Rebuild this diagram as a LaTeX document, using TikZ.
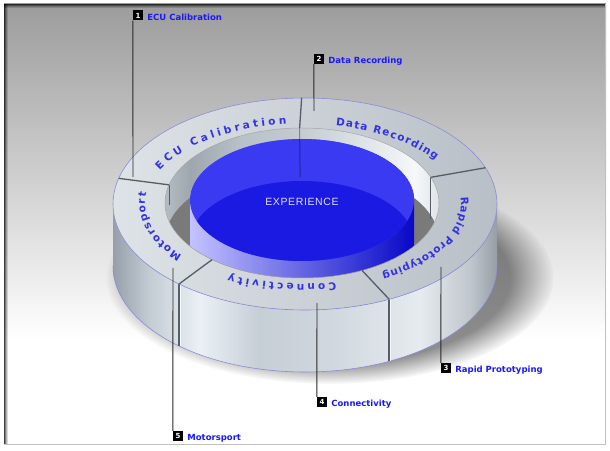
\documentclass[tikz,border=0pt]{standalone}
\usepackage{fontspec}
\setmainfont{DejaVu Sans}
\newfontfamily\expfont[LetterSpace=6]{Liberation Sans}
\usetikzlibrary{decorations.text,fadings}

\definecolor{panelTop}{RGB}{156,156,156}
\definecolor{panelEdge}{RGB}{192,192,192}
\definecolor{labelblue}{RGB}{25,25,250}
\definecolor{ringblue}{RGB}{50,50,228}
\definecolor{rimc}{RGB}{140,140,215}
\definecolor{topL}{RGB}{222,227,231}
\definecolor{topR}{RGB}{184,191,198}
\definecolor{divc}{RGB}{84,94,104}
\definecolor{floorc}{RGB}{122,122,122}
\definecolor{cylL}{RGB}{195,195,255}
\definecolor{cylR}{RGB}{8,8,200}
\definecolor{cylLight}{RGB}{58,58,242}
\definecolor{cylDark}{RGB}{26,26,226}
\definecolor{expc}{RGB}{222,222,250}
\definecolor{leadc}{RGB}{40,40,40}
\definecolor{wA}{RGB}{150,160,170}
\definecolor{wB}{RGB}{196,204,212}
\definecolor{wC}{RGB}{234,240,245}
\definecolor{wD}{RGB}{198,206,214}
\definecolor{wE}{RGB}{208,215,222}
\definecolor{wF}{RGB}{230,235,239}
\definecolor{wG}{RGB}{192,198,204}
\definecolor{wH}{RGB}{150,158,166}
\definecolor{iA}{RGB}{180,188,196}
\definecolor{iB}{RGB}{158,166,174}
\definecolor{iC}{RGB}{184,192,200}
\definecolor{iD}{RGB}{196,204,210}
\definecolor{iE}{RGB}{220,226,230}
\definecolor{iF}{RGB}{246,248,250}
\definecolor{iG}{RGB}{223,228,232}

\pgfdeclarehorizontalshading{wallshade}{100bp}{color(0bp)=(wA); color(25bp)=(wA); color(29.8bp)=(wB); color(36.3bp)=(wC); color(44.1bp)=(wD); color(53.3bp)=(wE); color(65bp)=(wF); color(71.5bp)=(wG); color(75bp)=(wH); color(100bp)=(wH)}
\pgfdeclarehorizontalshading{innershade}{100bp}{color(0bp)=(iA); color(25bp)=(iA); color(29.6bp)=(iB); color(38.7bp)=(iC); color(49.6bp)=(iD); color(60.5bp)=(iE); color(70.6bp)=(iF); color(75bp)=(iG); color(100bp)=(iG)}

\newcommand\ringfont{\fontsize{10.5}{10.5}\selectfont\bfseries}
\newcommand\labfont{\fontsize{8.5}{10}\selectfont\bfseries}

\tikzset{
  numbox/.style={fill=black, minimum size=10pt, inner sep=0pt, text=white, font=\fontsize{7}{7}\selectfont\bfseries},
  lab/.style={text=labelblue, font=\labfont, inner sep=0pt, anchor=base west},
  leader/.style={draw=leadc, line width=0.9pt},
  rim/.style={draw=rimc, line width=0.6pt},
  divtop/.style={draw=divc, line width=1.3pt},
  divhl/.style={draw=white, line width=0.7pt, opacity=0.8},
  ringtext/.style={decorate, decoration={text along path, text color=ringblue, text align={fit to path}, text={|\ringfont|#1}}}
}

\begin{document}
\begin{tikzpicture}[x=1pt,y=1pt]
\useasboundingbox (0,0) rectangle (610,450);
% background panel
\fill[white] (0,0) rectangle (610,450);
\shade[top color=panelTop, bottom color=white] (4,110) rectangle (606,446);
\fill[white] (4,5) rectangle (606,110.5);
\foreach \i/\o in {0/0.75,1/0.5,2/0.3,3/0.15}{
  \fill[black,opacity=\o] (4,445-\i) rectangle (606,446-\i);
  \fill[black,opacity=\o] (4+\i,5) rectangle (5+\i,446);
}
\draw[panelEdge, line width=1.2pt] (605.4,446) -- (605.4,5.6) -- (4,5.6);

% shadow
\fill[black, opacity=0.45, path fading=circle with fuzzy edge 20 percent] (330,172) ellipse [x radius=224, y radius=106];

% key points
\foreach \a/\n in {91/a,166/b,20/c,-64/d,-131/e}{
  \path (305,246) ++(\a:192 and 106) coordinate (o\n);
  \path (302,247) ++(\a:137 and 75) coordinate (i\n);
}

% outer wall
\shade[shading=wallshade] (113,246) arc[start angle=180,end angle=360,x radius=192,y radius=106] -- (497,184) arc[start angle=0,end angle=-180,x radius=192,y radius=106] -- cycle;
\draw[rim] (497,184) arc[start angle=0,end angle=-180,x radius=192,y radius=106];
\draw[divtop, line width=1.6pt] (od) -- ++(0,-62);
\draw[divhl] ([xshift=1.6pt]od) -- ++(0,-62);
\draw[divtop, line width=1.6pt] (oe) -- ++(0,-62);
\draw[divhl] ([xshift=1.6pt]oe) -- ++(0,-62);

% top face
\shade[left color=topL, right color=topR] (305,246) ellipse [x radius=192, y radius=106];
\draw[rim] (305,246) ellipse [x radius=192, y radius=106];

% hole
\begin{scope}
  \clip (302,247) ellipse [x radius=137, y radius=75];
  \shade[shading=innershade] (302,247) ellipse [x radius=137, y radius=75];
  \fill[floorc] (302,209) ellipse [x radius=137, y radius=75];
  \draw[divtop, line width=1pt] (ic) -- ++(0,-42);
  \draw[divtop, line width=1pt] (ib) -- ++(0,-20);
  % blue cylinder
  \shade[left color=cylL, right color=cylR] (190,250) arc[start angle=180,end angle=0,x radius=112,y radius=61] -- (414,208) arc[start angle=0,end angle=-180,x radius=112,y radius=61] -- cycle;
  \fill[cylLight] (302,250) ellipse [x radius=112, y radius=61];
  \begin{scope}
    \clip (302,250) ellipse [x radius=112, y radius=61];
    \fill[cylDark] (302,208) ellipse [x radius=112, y radius=61];
  \end{scope}
  \draw[black, opacity=0.35, line width=1pt] (ia) -- ++(0.5,-49);
\end{scope}
\draw[draw=gray!70, line width=0.5pt] (302,247) ellipse [x radius=137, y radius=75];

% top dividers
\foreach \n in {a,b,c,d,e}{
  \draw[divtop] (o\n) -- (i\n);
}

\node[font=\expfont\fontsize{10.5}{12}\selectfont, text=expc] (exp) at (302,248) {EXPERIENCE};

% ring texts
\path (303,246) ++(155:158 and 80) coordinate (t1);
\path (303,246) ++(78:158 and 80) coordinate (t2);
\path (303,246) ++(5:158 and 80) coordinate (t3);
\path (303,246) ++(-78:158 and 80) coordinate (t4);
\path (303,246) ++(-140:158 and 80) coordinate (t5);
\path[ringtext={ECU Calibration}] (t1) arc[start angle=155,end angle=96,x radius=158,y radius=80];
\path[ringtext={Data Recording}] (t2) arc[start angle=78,end angle=33,x radius=158,y radius=80];
\path[ringtext={Rapid Prototyping}] (t3) arc[start angle=5,end angle=-60,x radius=158,y radius=80];
\path[ringtext={Connectivity}] (t4) arc[start angle=-78,end angle=-118,x radius=158,y radius=80];
\path[ringtext={Motorsport}] (t5) arc[start angle=-140,end angle=-188,x radius=158,y radius=80];

% callouts
\node[numbox] (b1) at (138,434.5) {1};
\node[numbox] (b2) at (319,391) {2};
\node[numbox] (b3) at (446,82) {3};
\node[numbox] (b4) at (322,48) {4};
\node[numbox] (b5) at (178,14) {5};
\node[lab] (l1) at ([xshift=4pt,yshift=0.5pt]b1.south east) {ECU Calibration};
\node[lab] (l2) at ([xshift=4pt,yshift=0.5pt]b2.south east) {Data Recording};
\node[lab] (l3) at ([xshift=4pt,yshift=0.5pt]b3.south east) {Rapid Prototyping};
\node[lab] (l4) at ([xshift=4pt,yshift=0.5pt]b4.south east) {Connectivity};
\node[lab] (l5) at ([xshift=4pt,yshift=0.5pt]b5.south east) {Motorsport};
\coordinate (e1) at (133,273);
\coordinate (e2) at (314,339);
\coordinate (e3) at (441,183);
\coordinate (e4) at (317,147);
\coordinate (e5) at (173,182);
\draw[leader] (b1.south west) -- (e1);
\draw[leader] (b2.south west) -- (e2);
\draw[leader] (b3.north west) -- (e3);
\draw[leader] (b4.north west) -- (e4);
\draw[leader] (b5.north west) -- (e5);
\end{tikzpicture}
\end{document}
